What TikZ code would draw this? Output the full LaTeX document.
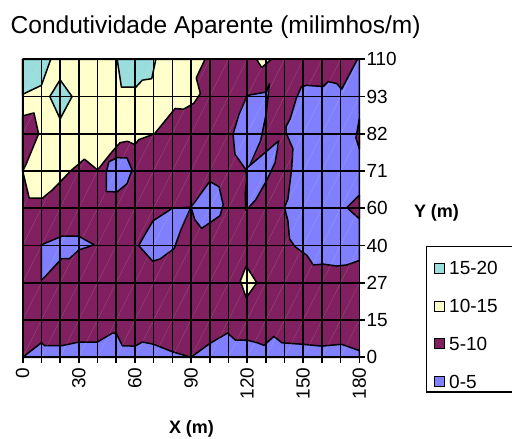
\documentclass[tikz,border=0pt]{standalone}
\usepackage{fontspec}
\setmainfont{Liberation Sans}
\definecolor{faixaA}{RGB}{128,128,255}  % 0-5
\definecolor{faixaB}{RGB}{128,32,96}    % 5-10
\definecolor{faixaC}{RGB}{255,255,204}  % 10-15
\definecolor{faixaD}{RGB}{153,221,221}  % 15-20
\begin{document}
\begin{tikzpicture}[x=1pt,y=1pt,
  zona/.style={draw=black,line width=1.5pt,line join=round},
  grade/.style={black,line width=1.6pt},
  rotulo/.style={inner sep=0.5pt,font=\fontsize{19}{22}\selectfont}]
\useasboundingbox (0,0) rectangle (512,439);
\node[anchor=base west,inner sep=0,font=\fontsize{24.5}{29}\selectfont] (titulo) at (10.5,405.7) {Condutividade Aparente (milimhos/m)};
\begin{scope}[shift={(22.7,81.7)},x=18.7pt,y=37.25pt]
%\draw[gray,help lines,dashed] (0,0) grid (18,8);
\fill[faixaB] (0,0) rectangle (18,8);
\draw[zona,fill=faixaC] (0,8) -- (9.75,8) -- (9.28,7.5) -- (9.5,7.08) -- (9.15,6.82) -- (8.6,6.66) -- (8.15,6.68)
	-- (7.05,6.0) -- (6.2,5.84) -- (6.0,5.71) -- (5.6,5.8) -- (5.2,5.76) -- (4.75,5.5) -- (4.0,5.03)
	-- (3.3,5.32) -- (2.6,5.02) -- (1.6,4.5) -- (1.05,4.27) -- (0.35,4.27) -- (0,5.0) -- cycle;
\draw[zona,fill=faixaB] (0,6.48) -- (0.6,6.56) -- (0.85,6.0) -- (0.2,5.2) -- (0,5.0) -- cycle;
% 15-20
\draw[zona,fill=faixaD] (0,8) -- (1.5,8) -- (1.0,7.3) -- (0.12,7.09) -- (0,7.05) -- cycle;
\draw[zona,fill=faixaD] (1.45,7.0) -- (2.0,7.45) -- (2.64,7.0) -- (2.0,6.4) -- cycle;
\draw[zona,fill=faixaD] (5.05,8) -- (5.28,7.25) -- (6.05,7.25) -- (6.4,7.44) -- (6.9,7.48) -- (7.12,8) -- cycle;
\draw[zona,fill=faixaC] (12.5,8) -- (12.78,7.78) -- (13.3,8) -- cycle;
\draw[zona,fill=faixaC] (11.64,2.05) -- (11.95,2.45) -- (12.52,2.0) -- (11.95,1.6) -- cycle;
% 0-5
\draw[zona,fill=faixaA] (1.0,3.02) -- (2.09,3.25) -- (3.0,3.25) -- (3.82,3.02) -- (3.0,2.88) -- (2.5,2.65) -- (2.09,2.65) -- (1.0,2.06) -- cycle;
\draw[zona,fill=faixaA] (6.2,3.0) -- (6.96,3.66) -- (8.0,4.0) -- (9.0,4.03) -- (8.45,3.42) -- (8.1,2.92) -- (7.35,2.64) -- (6.95,2.58) -- cycle;
\draw[zona,fill=faixaA] (9.0,4.03) -- (10.0,4.72) -- (10.5,4.58) -- (10.72,4.1) -- (10.55,3.8) -- (9.57,3.46) -- (9.2,3.7) -- cycle;
\draw[zona,fill=faixaA] (4.61,5.25) -- (5.05,5.36) -- (5.58,5.35) -- (5.85,5.03) -- (5.58,4.66) -- (5.05,4.44) -- (4.47,4.45) -- (4.47,4.98) -- cycle;
\draw[zona,fill=faixaA] (12.01,7.03) -- (13.02,7.12) -- (13.19,7.34) -- (13.02,6.53) -- (12.72,5.81) -- (12.1,5.1) -- (11.92,5.05)
	-- (11.35,5.45) -- (11.25,5.99) -- (11.57,6.53) -- cycle;
\draw[zona,fill=faixaA] (11.92,5.05) -- (13.69,5.81) -- (13.5,5.23) -- (13.05,4.75) -- (12.45,4.22) -- (11.93,3.94) -- (11.9,4.4) -- (11.98,4.76) -- cycle;
\draw[zona,fill=faixaA] (17.9,8) -- (17.06,7.2) -- (16.79,7.35) -- (16.34,7.4) -- (16.07,7.27) -- (15.17,7.3) -- (14.9,7.26) -- (14.63,6.95)
	-- (14.3,6.4) -- (14.09,6.2) -- (14.09,6.02) -- (14.45,5.6) -- (14.38,5.05) -- (14.18,4.24) -- (14.0,4.02) -- (14.18,3.67)
	-- (14.27,3.18) -- (14.56,2.97) -- (15.19,2.74) -- (15.54,2.48) -- (16.09,2.5) -- (16.8,2.45) -- (17.34,2.48) -- (18,2.6) -- (18,8) -- cycle;
\draw[zona,fill=faixaB] (18,6.4) -- (17.82,5.89) -- (18,5.6) -- cycle;
\draw[zona,fill=faixaB] (18,4.35) -- (17.33,4.02) -- (18,3.72) -- cycle;
\draw[zona,fill=faixaA] (0,0) -- (1.0,0.39) -- (1.18,0.31) -- (2.09,0.31) -- (3.0,0.41) -- (4.0,0.41) -- (4.8,0.65) -- (5.0,0.65)
	-- (5.33,0.31) -- (6.0,0.3) -- (6.41,0.41) -- (7.0,0.35) -- (8.0,0.15) -- (9.0,0) -- (10.0,0.37) -- (10.95,0.65)
	-- (11.38,0.46) -- (12.0,0.46) -- (12.55,0.39) -- (12.9,0.32) -- (13.43,0.56) -- (13.86,0.39) -- (14.96,0.35)
	-- (16.0,0.3) -- (17.05,0.35) -- (18,0.18) -- (18,0) -- cycle;
% diagonais claras
\foreach \i in {0,...,17}
	\foreach \j in {0,...,7}
		\draw[white,opacity=0.15,line width=0.5pt] (\i,\j) -- ++(1,1);
\foreach \i in {0,...,18}
	\draw[grade] (\i,0) -- (\i,8) (\i,0) -- ++(0,-6pt);
\foreach \j in {0,...,8}
	\draw[grade] (0,\j) -- (18,\j) (18,\j) -- ++(6pt,0);
\draw[black,line width=2pt] (0,0) -- (18,0);
\foreach \v [count=\j from 0] in {0,15,27,40,60,71,82,93,110}
	\node[rotulo,anchor=west,xshift=6.5pt] (yt\j) at (18,\j) {\v};
\foreach \v in {0,30,...,180}
	\node[rotulo,anchor=east,rotate=90] (xt\v) at (\v/10,-0.26) {\v};
\end{scope}
\node[font=\bfseries\fontsize{18}{21}\selectfont] (eixoy) at (436.5,226) {Y (m)};
\node[font=\bfseries\fontsize{18}{21}\selectfont] (eixox) at (191.5,10.5) {X (m)};
% legenda
\draw[line width=1.2pt] (512,192.3) -- (426.5,192.3) -- (426.5,47) -- (512,47);
\foreach \cor/\txt [count=\k] in {faixaD/15-20,faixaC/10-15,faixaB/5-10,faixaA/0-5}{
	\pgfmathsetmacro{\yy}{170.7-(\k-1)*37.8}
	\node[draw=black,fill=\cor,minimum size=10pt,inner sep=0,line width=0.8pt] (cx\k) at (439,\yy) {};
	\node[rotulo,anchor=west] (lg\k) at (448.5,\yy) {\txt};
}
\end{tikzpicture}
\end{document}
